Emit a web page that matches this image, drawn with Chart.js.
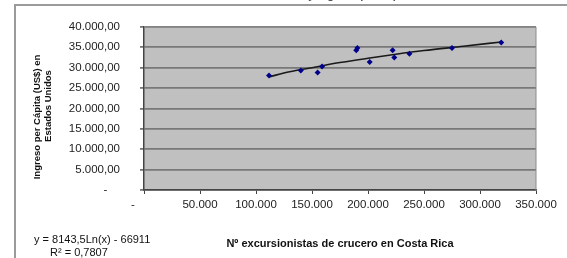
<html>
<head>
    <style>
        body { margin: 0; background: #fff; }
    </style>
    <script src="https://cdn.jsdelivr.net/npm/chart.js@4.4.0/dist/chart.umd.min.js"></script>
    <script>
        // Nº excursionistas de crucero vs ingreso per cápita (US$)
        var excursionistas = [111600, 140000, 155000, 159000, 189500, 190500, 201500, 222000, 223500, 237000, 275000, 319000];
        var ingreso = [28100, 29300, 28800, 30300, 34300, 34800, 31400, 34300, 32500, 33400, 34800, 36200];

        // trend line
        var trend_x = [111600, 130000, 150000, 175000, 200000, 225000, 250000, 285000, 319000];
        var trend_y = [27750, 29000, 30000, 31250, 32300, 33300, 34200, 35250, 36300];

        var x_ticks = [0, 50000, 100000, 150000, 200000, 250000, 300000, 350000];
        var y_ticks = [0, 5000, 10000, 15000, 20000, 25000, 30000, 35000, 40000];

        var equation = "y = 8143,5Ln(x) - 66911";
        var r2 = "R² = 0,7807";
        var x_title = "Nº excursionistas de crucero en Costa Rica";
        var y_title = ["Ingreso per Cápita (US$) en", "Estados Unidos"];

        function thousands(n) {
            return String(Math.round(n)).replace(/\B(?=(\d{3})+(?!\d))/g, ".");
        }

        var decoration = {
            id: 'decoration',
            beforeDraw: function(chart) {
                var ctx = chart.ctx;
                var a = chart.chartArea;
                ctx.save();
                ctx.fillStyle = '#c0c0c0';
                ctx.fillRect(a.left, a.top, a.right - a.left, a.bottom - a.top);
                ctx.restore();
            },
            afterDraw: function(chart) {
                var ctx = chart.ctx;
                var a = chart.chartArea;
                ctx.save();

                // outer chart frame
                ctx.strokeStyle = '#9a9a9a';
                ctx.lineWidth = 2;
                ctx.beginPath();
                ctx.moveTo(15, 260);
                ctx.lineTo(15, 5);
                ctx.lineTo(570, 5);
                ctx.stroke();

                // plot frame right/top
                ctx.strokeStyle = '#8c8c8c';
                ctx.lineWidth = 1;
                ctx.beginPath();
                ctx.moveTo(a.left, a.top);
                ctx.lineTo(a.right, a.top);
                ctx.lineTo(a.right, a.bottom);
                ctx.stroke();

                // cut-off chart title (only descenders show)
                ctx.fillStyle = '#555';
                ctx.font = 'bold 11px "Liberation Sans", Arial';
                ctx.textAlign = 'center';
                ctx.textBaseline = 'alphabetic';
                ctx.fillText("Excursionistas de crucero y ingreso per cápita", 290, -1.5);

                // x title
                ctx.fillStyle = '#111';
                ctx.font = 'bold 11px "Liberation Sans", Arial';
                ctx.textBaseline = 'middle';
                ctx.fillText(x_title, (a.left + a.right) / 2, 244);

                // trendline label
                ctx.font = '11px "Liberation Sans", Arial';
                ctx.textAlign = 'left';
                ctx.fillText(equation, 34, 240);
                ctx.fillText(r2, 50, 253);

                // y title
                ctx.font = 'bold 9.5px "Liberation Sans", Arial';
                ctx.textAlign = 'center';
                ctx.translate(37, 117);
                ctx.rotate(-Math.PI / 2);
                ctx.fillText(y_title[0], 0, 0);
                ctx.fillText(y_title[1], 11, 11);
                ctx.restore();
            }
        };

        function load() {
            var scatter = [];
            for (var i = 0; i < excursionistas.length; i++) {
                scatter.push({x: excursionistas[i], y: ingreso[i]});
            }
            var trend = [];
            for (var i = 0; i < trend_x.length; i++) {
                trend.push({x: trend_x[i], y: trend_y[i]});
            }

            var ctx = document.getElementById('myChart').getContext('2d');
            var chart = new Chart(ctx, {
                type: 'scatter',
                data: {
                    datasets: [{
                        data: trend,
                        showLine: true,
                        borderColor: '#1a1a1a',
                        borderWidth: 1.6,
                        pointRadius: 0,
                        cubicInterpolationMode: 'monotone',
                        order: 2
                    }, {
                        data: scatter,
                        pointStyle: 'rectRot',
                        pointRadius: 3,
                        backgroundColor: '#00008b',
                        borderColor: '#00008b',
                        borderWidth: 0,
                        order: 1
                    }]
                },
                options: {
                    responsive: false,
                    animation: false,
                    layout: { padding: { left: 0, top: 25, right: 31, bottom: 48 } },
                    plugins: {
                        legend: { display: false },
                        tooltip: { enabled: false }
                    },
                    scales: {
                        x: {
                            type: 'linear',
                            min: 0,
                            max: 350000,
                            afterBuildTicks: function(axis) {
                                axis.ticks = x_ticks.map(function(v) { return {value: v}; });
                            },
                            afterFit: function(axis) { axis.height = 20; },
                            grid: { drawOnChartArea: false, tickLength: 4, color: '#444', lineWidth: 1 },
                            border: { color: '#444', width: 1.5 },
                            ticks: {
                                padding: 4,
                                maxRotation: 0,
                                color: '#222',
                                font: { family: '"Liberation Sans", Arial', size: 11.5 },
                                callback: function(v) { return v == 0 ? '-       ' : thousands(v); }
                            }
                        },
                        y: {
                            min: 0,
                            max: 40000,
                            afterBuildTicks: function(axis) {
                                axis.ticks = y_ticks.map(function(v) { return {value: v}; });
                            },
                            afterFit: function(axis) { axis.width = 144; },
                            grid: { tickLength: 4, color: '#787878', lineWidth: 1.8 },
                            border: { color: '#444', width: 1.5 },
                            ticks: {
                                padding: 20,
                                color: '#222',
                                font: { family: '"Liberation Sans", Arial', size: 11.5 },
                                callback: function(v) { return v == 0 ? '-    ' : thousands(v) + ',00'; }
                            }
                        }
                    }
                },
                plugins: [decoration]
            });
        }
    </script>
</head>
<body>
<canvas id="myChart" width="567" height="258"></canvas>
<script>load();</script>
</body>
</html>
